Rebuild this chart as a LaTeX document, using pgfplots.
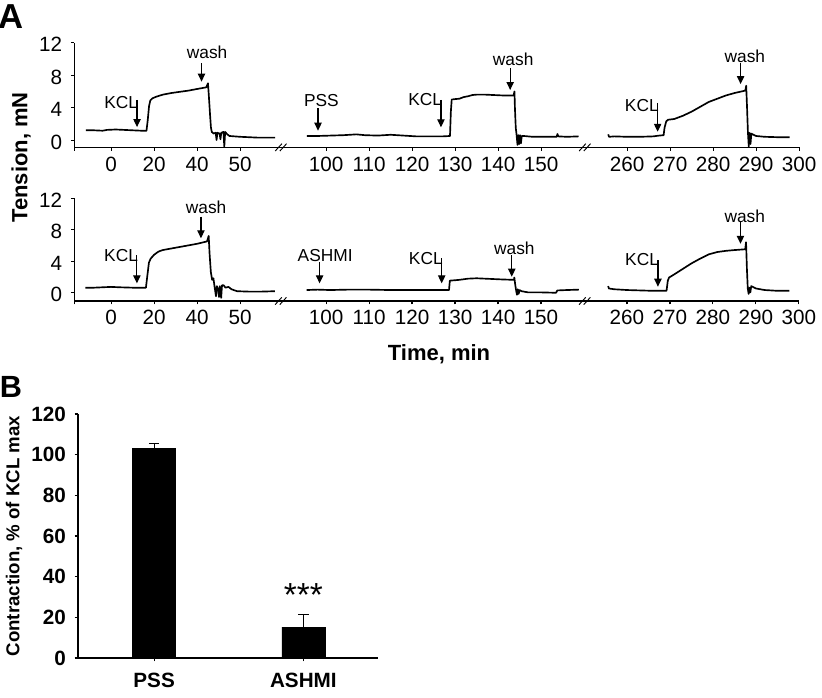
\documentclass[border=0pt]{standalone}
\usepackage{fontspec}
\setmainfont{Liberation Sans}
\usepackage{pgfplots}
\pgfplotsset{compat=1.18}
\usetikzlibrary{arrows.meta}

\newcommand{\arr}[3]{\draw[line width=0.9pt,-{Triangle[length=6pt,width=5.5pt]}] (axis cs:#1,#2) -- (axis cs:#1,#3);}
\newcommand{\brk}[2]{%
  \draw[line width=0.7pt] ([xshift=-5pt,yshift=-2.75pt]axis cs:#1,#2) -- ++(5pt,5.5pt);
  \draw[line width=0.7pt] ([xshift=-1.5pt,yshift=-2.75pt]axis cs:#1,#2) -- ++(5pt,5.5pt);}
\newcommand{\ann}{\fontsize{13}{15}\selectfont}

\pgfplotsset{
  trace/.style={
    scale only axis, width=543.6pt,
    axis x line=bottom, axis y line=left,
    axis line style={-, line width=0.8pt},
    xmin=41.4, xmax=210, ymax=12,
    xtick={41.4,50,60,70,80,100,110,120,130,140,150,170,180,190,200,210},
    xticklabels={,0,20,40,50,100,110,120,130,140,150,260,270,280,290,300},
    ytick={0,4,8,12},
    tick align=outside, major tick length=2.5pt,
    tick style={line width=0.8pt, black},
    ticklabel style={font=\fontsize{15.5}{17}\selectfont},
    /pgf/number format/assume math mode=true,
    yticklabel style={xshift=-3pt, yshift=-1.5pt},
    xticklabel style={yshift=-1pt},
    clip=false,
  },
  tr/.style={black, line width=1.25pt, no marks, line join=round},
}

\begin{document}
\begin{tikzpicture}
\useasboundingbox (0,0) rectangle (616.5pt,-522.75pt);

% ---------- Panel A, top row ----------
\begin{axis}[trace, at={(55.7pt,-110.5pt)}, anchor=south west, height=78.45pt, ymin=-0.9]
\addplot[tr] coordinates {(44.1,1.2) (46,1.2) (48,1.15) (49,1.25) (51,1.3) (53,1.25) (55,1.2) (57,1.15) (58.2,1.15) (58.5,2.5) (58.8,4.2) (59.1,4.9) (59.6,5.15) (60.5,5.35) (62,5.6) (64,5.8) (66,5.95) (68,6.1) (70,6.3) (72.1,6.5) (72.5,7.0) (72.7,5.5) (73.0,3.0) (73.2,1.5) (73.4,1.0) (73.8,0.8) (74.3,0.9) (74.5,0.0) (74.7,0.9) (75.2,0.8) (75.4,0.1) (75.6,0.9) (76.1,1.0) (76.3,-0.8) (76.5,1.0) (77.0,0.7) (77.5,0.5) (80,0.4) (84,0.3) (88.1,0.3)};
\addplot[tr] coordinates {(95.5,0.5) (98,0.5) (101,0.55) (104,0.6) (107,0.7) (109,0.6) (112,0.55) (115,0.65) (118,0.55) (121,0.45) (124,0.45) (127,0.45) (128.8,0.5) (129.0,3.5) (129.2,5.0) (130,5.05) (131,5.1) (132,5.3) (133,5.4) (134,5.55) (135,5.6) (137,5.6) (139,5.55) (141,5.5) (143.6,5.5) (143.8,6.0) (143.9,4.0) (144.1,1.5) (144.3,0.6) (144.5,-0.6) (144.7,0.6) (144.9,-0.5) (145.1,0.6) (145.3,-0.4) (145.5,0.5) (146,0.5) (148,0.4) (150,0.4) (152,0.4) (153.6,0.4) (153.8,0.75) (154,0.45) (156,0.4) (158.7,0.45)};
\addplot[tr] coordinates {(165.6,0.7) (165.8,0.4) (167,0.45) (170,0.4) (173,0.4) (176,0.45) (177.5,0.55) (178.5,0.6) (178.7,1.5) (179.1,2.3) (179.5,2.5) (181,2.6) (183,3.0) (185,3.5) (187,4.1) (189,4.7) (191,5.1) (193,5.5) (195,5.8) (197.5,6.1) (197.7,6.7) (197.9,4.0) (198.1,1.0) (198.3,-0.8) (198.5,0.9) (198.7,-0.5) (198.9,0.8) (199.2,0.7) (200,0.5) (202,0.4) (205,0.35) (207.8,0.35)};
\brk{89.7}{-0.9}
\brk{160.4}{-0.9}
\node[anchor=east, inner sep=0, font=\ann] at (axis cs:56.3,4.6) {KCL};
\arr{56.0}{4.94}{1.6}
\node[inner sep=0, font=\ann] at (axis cs:72.3,10.8) {wash};
\arr{71.0}{9.47}{7.2}
\node[inner sep=0, font=\ann] at (axis cs:98.9,4.85) {PSS};
\arr{98.1}{3.9}{1.15}
\node[anchor=east, inner sep=0, font=\ann] at (axis cs:127.0,4.94) {KCL};
\arr{126.7}{4.94}{1.57}
\node[inner sep=0, font=\ann] at (axis cs:143.5,10.0) {wash};
\arr{142.8}{8.85}{6.17}
\node[anchor=east, inner sep=0, font=\ann] at (axis cs:177.4,4.3) {KCL};
\arr{177.1}{4.57}{1.02}
\node[inner sep=0, font=\ann] at (axis cs:197.4,10.3) {wash};
\arr{196.4}{9.47}{6.9}
\end{axis}

% ---------- Panel A, bottom row ----------
\begin{axis}[trace, at={(55.6pt,-225.75pt)}, anchor=south west, height=77pt, ymin=-1.1]
\addplot[tr] coordinates {(44.0,0.6) (46,0.6) (48,0.65) (50,0.7) (52,0.65) (55,0.6) (58.1,0.6) (58.4,2.0) (58.8,3.8) (59.2,4.3) (60,4.8) (61,5.2) (62,5.4) (64,5.6) (66,5.8) (68,6.0) (70,6.2) (72.3,6.5) (72.7,7.2) (72.9,5.0) (73.2,2.6) (73.5,1.6) (73.8,1.8) (74.1,0.6) (74.4,-0.5) (74.6,0.8) (74.9,0.4) (75.1,-0.6) (75.3,0.8) (75.6,-0.7) (75.8,0.9) (76.2,0.9) (76.6,0.6) (77.3,0.7) (78,0.4) (79.3,0.15) (82,0.1) (85,0.1) (88.1,0.15)};
\addplot[tr] coordinates {(95.5,0.3) (98,0.35) (101,0.3) (105,0.35) (110,0.35) (115,0.3) (120,0.3) (125,0.3) (128.6,0.3) (128.8,1.5) (130,1.55) (131,1.6) (133,1.75) (135,1.8) (137,1.75) (139,1.7) (141,1.65) (143.7,1.6) (143.8,1.9) (144.0,1.0) (144.2,0.3) (144.4,-0.3) (144.6,0.4) (144.8,-0.2) (145.0,0.3) (145.5,0.15) (147,0.0) (150,0.0) (153.5,-0.05) (153.8,0.25) (156,0.3) (158.8,0.35)};
\addplot[tr] coordinates {(165.6,0.8) (165.8,0.5) (167,0.4) (170,0.3) (173,0.25) (176,0.2) (179.2,0.2) (179.5,1.5) (179.8,1.9) (181,2.3) (183,3.0) (185,3.7) (187,4.3) (189,4.85) (191,5.15) (193,5.3) (195,5.4) (197.5,5.5) (197.7,6.4) (197.9,3.0) (198.1,0.5) (198.3,-0.2) (198.5,0.6) (198.7,0.0) (198.9,0.8) (199.3,0.7) (200,0.5) (202,0.3) (205,0.2) (207.8,0.2)};
\brk{89.7}{-1.1}
\brk{160.4}{-1.1}
\node[anchor=east, inner sep=0, font=\ann] at (axis cs:56.3,4.64) {KCL};
\arr{56.0}{4.76}{1.15}
\node[inner sep=0, font=\ann] at (axis cs:72.1,10.9) {wash};
\arr{70.9}{9.66}{6.9}
\node[inner sep=0, font=\ann] at (axis cs:99.8,4.76) {ASHMI};
\arr{98.5}{3.9}{1.15}
\node[anchor=east, inner sep=0, font=\ann] at (axis cs:127.2,4.34) {KCL};
\arr{126.9}{4.34}{1.15}
\node[inner sep=0, font=\ann] at (axis cs:143.8,5.6) {wash};
\arr{143.2}{4.76}{2.0}
\node[anchor=east, inner sep=0, font=\ann] at (axis cs:177.5,4.13) {KCL};
\arr{177.2}{4.13}{0.72}
\node[inner sep=0, font=\ann] at (axis cs:197.4,9.7) {wash};
\arr{196.4}{9.0}{6.2}
\end{axis}

% ---------- Panel B ----------
\begin{axis}[at={(58.5pt,-493.5pt)}, anchor=south west, scale only axis,
  width=225pt, height=183pt,
  axis x line=bottom, axis y line=left, axis line style={-, line width=0.8pt},
  xmin=0.49, xmax=2.5, ymin=0, ymax=120,
  xtick={1,2}, xticklabels={PSS,ASHMI},
  ytick={0,20,40,60,80,100,120},
  tick align=outside, major tick length=2.5pt,
  tick style={line width=0.8pt, black},
  /pgf/number format/assume math mode=true,
  ticklabel style={font=\fontsize{15.5}{17}\selectfont\bfseries},
  xticklabel style={yshift=-5pt},
  yticklabel style={xshift=-3pt},
  clip=false]
\addplot[ybar, bar width=32.25pt, fill=black, draw=black,
  error bars/.cd, y dir=plus, y explicit,
  error bar style={line width=0.8pt, black},
  error mark options={rotate=90, mark size=4pt, line width=0.8pt, black}]
  coordinates {(1,103.2) +- (0,2.5) (2,15.2) +- (0,6.4)};
\node[font=\fontsize{25}{25}\selectfont] at (axis cs:2,31) {***};
\end{axis}

% ---------- labels ----------
\node[font=\fontsize{26}{30}\selectfont\bfseries] at (8.6pt,-12.4pt) {A};
\node[font=\fontsize{23}{26}\selectfont\bfseries] at (8.25pt,-289.9pt) {B};
\node[rotate=90, font=\fontsize{16.5}{18}\selectfont\bfseries] at (15.75pt,-118.1pt) {Tension, mN};
\node[font=\fontsize{16.5}{18}\selectfont\bfseries] at (329.25pt,-265.5pt) {Time, min};
\node[rotate=90, font=\fontsize{14}{16}\selectfont\bfseries] at (10.5pt,-402pt) {Contraction, \% of KCL max};
\end{tikzpicture}
\end{document}
